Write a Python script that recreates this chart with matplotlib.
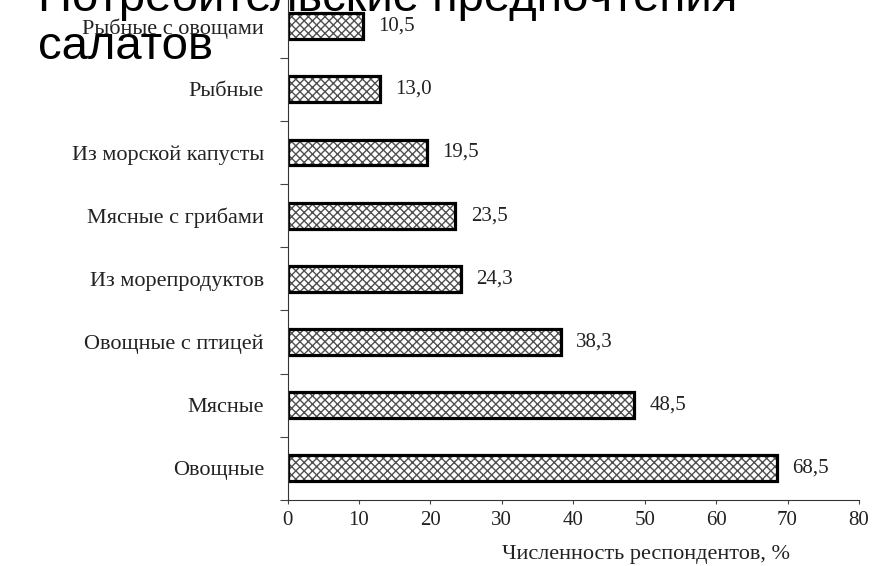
import numpy as np
import matplotlib.pyplot as plt
from matplotlib.ticker import FixedLocator

# consumer preferences for salads, % of respondents (top to bottom)
categories = ["Рыбные с овощами", "Рыбные", "Из морской капусты", "Мясные с грибами",
              "Из морепродуктов", "Овощные с птицей", "Мясные", "Овощные"]
values = [10.5, 13.0, 19.5, 23.5, 24.3, 38.3, 48.5, 68.5]
xticks = [0, 10, 20, 30, 40, 50, 60, 70, 80]

serif = "Liberation Serif"
fs = 15
fig = plt.figure(figsize=(8.77, 5.66), dpi=100)
ax = fig.add_axes([287.5 / 877, 1 - 500 / 566, (859 - 287.5) / 877, 505.5 / 566])

y = np.arange(len(categories))
# hatched fill first, then a heavy black outline on top
ax.barh(y, values, height=0.41, color="white", edgecolor="#505050",
        hatch="xxxx", linewidth=0)
ax.barh(y, values, height=0.41, color="none", edgecolor="black", linewidth=2.3)

for yi, v in zip(y, values):
    ax.annotate(f"{v:.1f}".replace(".", ","), (v, yi), xytext=(11, 0),
                textcoords="offset points", ha="left", va="center",
                fontsize=fs, family=serif, color="#222222")

ax.set_xlim(0, 80)
ax.set_ylim(len(categories) - 0.5, -0.5)
ax.set_xticks(xticks)
ax.set_xticklabels([str(t) for t in xticks], family=serif, fontsize=fs, color="#222222")
ax.tick_params(axis="x", direction="out", length=3, width=0.8, pad=5, color="#444444")

ax.set_yticks(y)
ax.set_yticklabels(categories, family=serif, fontsize=fs + 1, color="#222222")
ax.tick_params(axis="y", which="major", length=0, pad=17)
ax.yaxis.set_minor_locator(FixedLocator(np.arange(len(categories) + 1) - 0.5))
ax.tick_params(axis="y", which="minor", direction="out", length=6, width=0.8, color="#444444")

for side in ["top", "right"]:
    ax.spines[side].set_visible(False)
for side in ["left", "bottom"]:
    ax.spines[side].set_linewidth(0.8)
    ax.spines[side].set_color("#333333")

fig.text(646 / 877, 1 - 554 / 566, "Численность респондентов, %",
         ha="center", va="center", family=serif, fontsize=fs + 1, color="#222222")

# title drawn as two separate lines near the top edge
fig.text(38 / 877, 1 - 11 / 566, "Потребительские предпочтения", family="Liberation Sans",
         fontsize=34, ha="left", va="baseline", color="black")
fig.text(38 / 877, 1 - 59 / 566, "салатов", family="Liberation Sans",
         fontsize=34, ha="left", va="baseline", color="black")

fig.savefig("out.png", dpi=100)
